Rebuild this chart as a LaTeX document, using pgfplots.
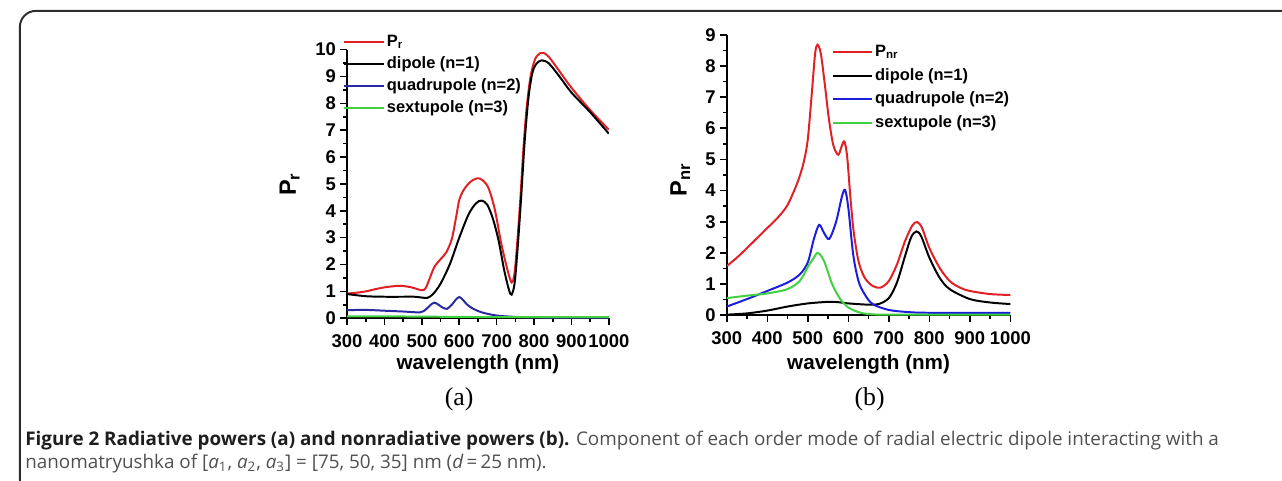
\documentclass[border=0pt]{standalone}
\usepackage{fontspec}
\setmainfont{Liberation Sans}
\newfontfamily\capfont{Open Sans}
\newfontfamily\labfont{Liberation Serif}
\usepackage{graphicx}
\usepackage{pgfplots}
\pgfplotsset{compat=1.18}
\usepackage{pgfplotstable}

\definecolor{cred}{RGB}{224,32,36}
\definecolor{cnavy}{RGB}{40,40,160}
\definecolor{cblue}{RGB}{28,28,220}
\definecolor{cgreen}{RGB}{64,208,64}
\definecolor{frame}{RGB}{45,45,45}
\definecolor{capbold}{RGB}{30,30,30}
\definecolor{captext}{RGB}{80,80,80}

% ---- (a) radiative powers ----
\pgfplotstableread{
wl P
300 0.92
325 0.95
350 1.00
375 1.08
400 1.15
430 1.20
450 1.20
475 1.14
500 1.04
510 1.12
520 1.45
533 1.90
550 2.20
565 2.45
580 2.95
592 3.80
600 4.40
612 4.78
630 5.08
648 5.21
662 5.14
678 4.85
695 4.05
712 2.80
728 1.85
740 1.33
748 1.70
756 3.00
764 4.60
772 6.40
780 7.80
790 8.95
802 9.62
815 9.86
825 9.88
840 9.72
865 9.25
900 8.58
950 7.75
1000 7.02
}\radTotal
\pgfplotstableread{
wl P
300 0.90
350 0.82
400 0.80
450 0.80
480 0.80
500 0.77
515 0.76
530 0.90
550 1.29
575 2.02
600 3.00
625 3.87
645 4.28
660 4.38
675 4.22
690 3.70
705 2.90
720 1.80
733 1.05
740 0.88
748 1.30
756 2.60
765 4.40
775 6.60
785 8.20
795 9.10
805 9.45
820 9.60
840 9.48
870 8.96
900 8.40
950 7.67
1000 6.87
}\radDip
\pgfplotstableread{
wl P
300 0.30
350 0.31
400 0.28
450 0.25
495 0.22
510 0.32
522 0.48
533 0.58
545 0.50
555 0.40
567 0.35
580 0.50
590 0.68
600 0.79
610 0.68
620 0.52
635 0.37
660 0.22
700 0.10
750 0.05
800 0.03
900 0.02
1000 0.02
}\radQuad
\pgfplotstableread{
wl P
300 0.07
400 0.07
500 0.06
600 0.05
700 0.04
800 0.04
1000 0.04
}\radSext

% ---- (b) nonradiative powers ----
\pgfplotstableread{
wl P
300 1.58
325 1.85
350 2.16
375 2.48
400 2.80
425 3.12
450 3.54
475 4.28
490 4.92
500 5.66
510 7.15
518 8.40
524 8.68
532 8.40
542 7.40
552 6.30
563 5.45
575 5.15
583 5.40
590 5.58
597 5.10
605 3.80
613 2.70
625 1.74
640 1.21
660 0.94
680 0.89
700 1.10
720 1.63
740 2.38
758 2.88
770 2.99
782 2.80
800 2.16
825 1.53
850 1.10
875 0.89
900 0.78
950 0.68
1000 0.65
}\nrTotal
\pgfplotstableread{
wl P
300 0.02
350 0.06
400 0.15
450 0.28
500 0.38
550 0.43
575 0.42
600 0.38
650 0.34
675 0.36
700 0.55
720 1.05
740 1.90
755 2.50
768 2.69
780 2.53
800 1.85
825 1.21
850 0.84
900 0.52
950 0.41
1000 0.36
}\nrDip
\pgfplotstableread{
wl P
300 0.28
350 0.52
400 0.78
450 1.05
480 1.31
500 1.70
515 2.45
528 2.90
540 2.64
553 2.45
570 3.01
584 3.80
592 4.02
600 3.44
612 1.95
625 1.10
640 0.68
660 0.36
700 0.17
750 0.10
800 0.08
1000 0.08
}\nrQuad
\pgfplotstableread{
wl P
300 0.55
350 0.63
400 0.70
450 0.84
480 1.10
500 1.55
515 1.85
525 2.00
540 1.74
560 1.00
580 0.52
600 0.25
625 0.10
650 0.04
700 0.02
1000 0.02
}\nrSext

\pgfplotsset{
  powerax/.style={
    scale only axis,
    axis x line*=bottom, axis y line*=left,
    axis line style={line width=1pt},
    tick align=outside,
    major tick length=3.5pt, minor tick length=2pt,
    tick style={line width=0.8pt, black},
    xmin=300, xmax=1000, xtick={300,400,...,1000}, minor x tick num=1,
    ymin=0, minor y tick num=1,
    tick label style={font=\bfseries\fontsize{9.3}{10}\selectfont},
    xticklabel style={inner sep=1.5pt, yshift=-3pt},
    yticklabel style={inner sep=1.5pt, xshift=-0.5pt},
    /pgf/number format/assume math mode=true,
    /pgf/number format/1000 sep={},
    legend cell align=left,
    legend style={draw=none, fill=none, anchor=north west, inner sep=0pt,
      font=\bfseries\fontsize{8.3}{9}\selectfont,
      nodes={inner sep=1pt, text height=6.3pt, text depth=1.8pt}},
    legend image code/.code={\draw[##1, line width=1pt] (0pt,0pt) -- (20pt,0pt);},
    every axis plot/.append style={line width=1pt, smooth, no marks},
  }
}

\newlength\capw
\newcommand\capfontsize{\fontsize{8.75}{10}\selectfont}
\newcommand\capone{{\bfseries\color{capbold}Figure 2 Radiative powers (a) and nonradiative powers (b).} Component of each order mode of radial electric dipole interacting with a}
\newcommand\captwo{nanomatryushka of [\textit{a}\textsubscript{1}, \textit{a}\textsubscript{2}, \textit{a}\textsubscript{3}] = [75, 50, 35] nm (\textit{d}\,=\,25 nm).}

\begin{document}
\settowidth{\capw}{\capfont\capfontsize\capone}
\pgfmathsetmacro\capscale{602pt/\capw}
\begin{tikzpicture}[x=0.5pt, y=-0.5pt]
\useasboundingbox (0,0) rectangle (1282,485);
\draw[frame, line width=1pt, rounded corners=8] (9,520) -- (9,11) -- (1320,11);

% (a): lower left corner at 339 px, 321 px
\begin{axis}[powerax, at={(169.5pt,-160.5pt)}, anchor=south west,
  width=132pt, height=135.5pt, ymax=10, ytick={0,1,...,10},
  legend style={at={(-0.016,1.066)}, row sep=0.95pt}]
\addplot[cred] table {\radTotal};
\addplot[black] table {\radDip};
\addplot[cnavy] table {\radQuad};
\addplot[cgreen] table {\radSext};
\legend{P\textsubscript{r}, dipole (n=1), quadrupole (n=2), sextupole (n=3)}
\end{axis}

% (b): lower left corner at 722 px, 318 px
\begin{axis}[powerax, at={(361pt,-159pt)}, anchor=south west,
  width=143pt, height=141.5pt, ymax=9, ytick={0,1,...,9},
  legend style={at={(0.368,0.975)}, row sep=1.75pt}]
\addplot[cred] table {\nrTotal};
\addplot[black] table {\nrDip};
\addplot[cblue] table {\nrQuad};
\addplot[cgreen] table {\nrSext};
\legend{P\textsubscript{nr}, dipole (n=1), quadrupole (n=2), sextupole (n=3)}
\end{axis}

% axis titles
\node[font=\bfseries\fontsize{10.4}{12}\selectfont] at (471,367) {wavelength (nm)};
\node[font=\bfseries\fontsize{10.4}{12}\selectfont] at (865,367) {wavelength (nm)};
\node[rotate=90, font=\bfseries\fontsize{11.9}{13}\selectfont] at (281,186) {P\textsubscript{r}};
\node[rotate=90, font=\bfseries\fontsize{11.9}{13}\selectfont] at (675,181) {P\textsubscript{nr}};

% panel letters
\node[font=\labfont\fontsize{13}{15}\selectfont] at (452,403) {(a)};
\node[font=\labfont\fontsize{13}{15}\selectfont] at (866,403) {(b)};

% caption
\node[anchor=base west, inner sep=0pt, font=\capfont\capfontsize, text=captext] at (14,449)
  {\scalebox{\capscale}{\capone}};
\node[anchor=base west, inner sep=0pt, font=\capfont\capfontsize, text=captext] at (14,473)
  {\scalebox{\capscale}{\captwo}};
\end{tikzpicture}
\end{document}
